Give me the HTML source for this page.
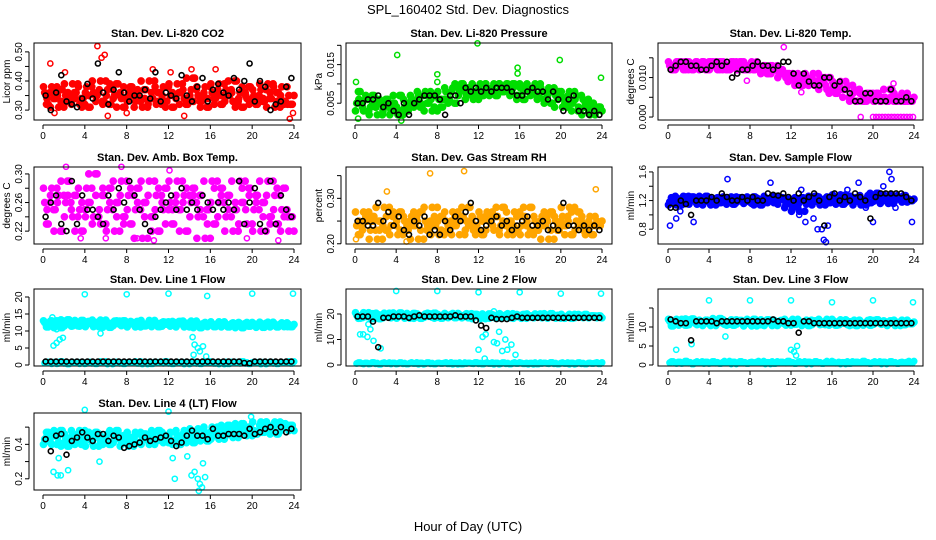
<!DOCTYPE html>
<html><head><meta charset="utf-8"><style>
html,body{margin:0;padding:0;background:#fff}
svg{display:block;font-family:"Liberation Sans",sans-serif}
</style></head><body>
<svg id="c" width="936" height="540" viewBox="0 0 936 540" xmlns="http://www.w3.org/2000/svg">
<rect x="0" y="0" width="936" height="540" fill="#fff"/>
<text x="468" y="14" font-size="13" text-anchor="middle">SPL_160402  Std. Dev. Diagnostics</text>
<text x="468" y="531" font-size="13" text-anchor="middle">Hour of Day (UTC)</text>
</svg>
<script>
const hourTicks=[0,4,8,12,16,20,24];
const lowVals=[0.6,0.9,0.4,0.8,0.5,1.0,0.7,0.3,0.9,0.6,0.4,0.8,0.5,0.9,0.7,0.4,1.0,0.6,0.3,0.8,0.5,0.9,0.7,0.4,0.8,0.6,1.0,0.5,0.3,0.7,0.9,0.4,0.6,0.8,0.5,1.0,0.7,0.4,0.9,0.6,0.3,0.8,0.5,0.9,0.7,0.4,1.0,0.6,0.8,0.5,0.3,0.7,0.9,0.4,0.6,0.8,0.5,1.0,0.7,0.4,0.9,0.6,0.3,0.8,0.5,0.9,0.7,0.4,0.8,0.6,1.0,0.5];
const co2Color=[0.36,0.32,0.38,0.34,0.31,0.37,0.35,0.33,0.39,0.36,0.32,0.34,0.38,0.31,0.36,0.35,0.40,0.33,0.37,0.32,0.35,0.39,0.34,0.31,0.36,0.38,0.33,0.35,0.31,0.37,0.40,0.34,0.32,0.36,0.38,0.33,0.35,0.31,0.39,0.36,0.34,0.32,0.37,0.41,0.35,0.33,0.38,0.31,0.36,0.34,0.39,0.32,0.37,0.35,0.33,0.40,0.36,0.31,0.34,0.38,0.35,0.32,0.37,0.33,0.39,0.34,0.31,0.36,0.38,0.33,0.35,0.32];
const co2Black=[0.35,0.30,0.36,0.42,0.33,0.32,0.31,0.34,0.39,0.34,0.46,0.36,0.32,0.37,0.43,0.36,0.33,0.35,0.35,0.37,0.34,0.43,0.33,0.36,0.35,0.34,0.42,0.35,0.33,0.38,0.41,0.33,0.37,0.39,0.36,0.35,0.41,0.37,0.40,0.46,0.33,0.40,0.38,0.30,0.32,0.33,0.38,0.41];
const co2Out=[[0.7,0.46],[5.2,0.52],[5.6,0.48],[5.9,0.49],[2.1,0.43],[1.1,0.29],[6.2,0.28],[8,0.29],[13.5,0.28],[14.2,0.44],[16.5,0.44],[23.6,0.27],[23.9,0.29],[10.5,0.44],[12.2,0.43]];
const presColor=[0.005,0.008,0.003,0.006,0.004,0.007,0.002,0.005,0.004,0.006,0.003,0.005,0.002,0.007,0.004,0.003,0.006,0.005,0.007,0.004,0.008,0.005,0.003,0.007,0.006,0.004,0.008,0.006,0.009,0.005,0.008,0.010,0.007,0.009,0.006,0.008,0.010,0.007,0.009,0.008,0.010,0.007,0.009,0.008,0.010,0.008,0.010,0.007,0.009,0.006,0.009,0.008,0.010,0.007,0.008,0.006,0.009,0.005,0.007,0.008,0.004,0.006,0.008,0.005,0.007,0.003,0.006,0.004,0.002,0.005,0.003,0.004];
const presBlack=[0.005,0.005,0.006,0.006,0.007,0.004,0.005,0.003,0.002,0.005,0.002,0.005,0.006,0.007,0.007,0.007,0.006,0.002,0.007,0.007,0.005,0.009,0.008,0.009,0.008,0.009,0.008,0.009,0.009,0.009,0.008,0.007,0.007,0.008,0.009,0.008,0.008,0.006,0.008,0.006,0.003,0.006,0.007,0.003,0.003,0.002,0.003,0.002];
const presOut=[[4.1,0.0175],[11.9,0.0205],[19.9,0.0162],[23.9,0.0116],[0.1,0.0105],[8,0.0125],[8,0.0105],[15.8,0.0142],[15.8,0.0127],[0.3,0.001],[4.5,0.0005]];
const tempColor=[0.013,0.012,0.014,0.013,0.012,0.014,0.013,0.012,0.014,0.013,0.014,0.012,0.014,0.013,0.012,0.014,0.013,0.012,0.014,0.013,0.012,0.014,0.012,0.013,0.014,0.012,0.013,0.012,0.013,0.011,0.013,0.012,0.011,0.012,0.010,0.011,0.011,0.009,0.010,0.008,0.010,0.009,0.011,0.008,0.010,0.009,0.007,0.010,0.008,0.006,0.009,0.007,0.008,0.005,0.007,0.004,0.006,0.004,0.006,0.005,0.004,0.006,0.004,0.005,0.004,0.007,0.004,0.005,0.006,0.004,0.005,0.004];
const tempBlack=[0.012,0.013,0.014,0.014,0.013,0.013,0.012,0.012,0.013,0.014,0.013,0.014,0.010,0.011,0.012,0.012,0.013,0.014,0.013,0.013,0.012,0.013,0.014,0.014,0.011,0.008,0.011,0.009,0.008,0.008,0.010,0.010,0.008,0.009,0.007,0.006,0.004,0.004,0.006,0.006,0.004,0.004,0.004,0.007,0.004,0.004,0.005,0.004];
const tempOut=[[18.8,0],[20,0],[20.3,0],[20.6,0],[20.9,0],[21.2,0],[21.5,0],[21.8,0],[22.1,0],[22.4,0],[22.7,0],[23,0],[23.3,0],[23.6,0],[23.9,0],[11.3,0.0177],[7.7,0.0092],[13,0.0063],[22,0.0085]];
const ambColor=[0.26,0.23,0.28,0.25,0.27,0.22,0.26,0.29,0.24,0.27,0.25,0.22,0.28,0.26,0.24,0.30,0.23,0.27,0.25,0.28,0.22,0.26,0.29,0.24,0.27,0.23,0.25,0.28,0.21,0.26,0.29,0.24,0.27,0.22,0.25,0.28,0.26,0.23,0.29,0.25,0.27,0.22,0.26,0.28,0.24,0.27,0.21,0.25,0.29,0.23,0.26,0.28,0.24,0.27,0.22,0.25,0.29,0.26,0.23,0.28,0.25,0.27,0.22,0.26,0.29,0.24,0.27,0.23,0.25,0.28,0.22,0.24];
const ambBlack=[0.24,0.26,0.27,0.23,0.22,0.29,0.23,0.27,0.25,0.25,0.24,0.23,0.27,0.25,0.28,0.26,0.29,0.27,0.25,0.23,0.22,0.24,0.25,0.26,0.27,0.25,0.28,0.25,0.26,0.25,0.27,0.26,0.25,0.26,0.25,0.26,0.25,0.29,0.23,0.26,0.28,0.23,0.22,0.29,0.23,0.27,0.25,0.24];
const ambOut=[[2.2,0.31],[7.5,0.31],[12.1,0.305],[3.6,0.21],[6,0.21],[9,0.21],[10.6,0.207],[19.5,0.21],[22.5,0.207]];
const rhColor=[0.24,0.22,0.27,0.25,0.23,0.26,0.21,0.25,0.28,0.23,0.24,0.26,0.22,0.27,0.25,0.23,0.26,0.24,0.21,0.27,0.25,0.23,0.28,0.24,0.22,0.26,0.25,0.23,0.27,0.24,0.22,0.26,0.25,0.28,0.23,0.24,0.26,0.22,0.27,0.25,0.23,0.26,0.24,0.28,0.22,0.25,0.27,0.23,0.24,0.26,0.22,0.28,0.25,0.23,0.26,0.24,0.21,0.27,0.25,0.23,0.26,0.24,0.28,0.22,0.25,0.27,0.23,0.24,0.26,0.22,0.25,0.24];
const rhBlack=[0.25,0.25,0.24,0.24,0.29,0.25,0.27,0.24,0.26,0.23,0.22,0.25,0.24,0.26,0.22,0.23,0.22,0.25,0.23,0.26,0.25,0.27,0.29,0.25,0.23,0.24,0.25,0.26,0.24,0.25,0.23,0.24,0.25,0.26,0.24,0.24,0.25,0.23,0.24,0.23,0.29,0.24,0.24,0.23,0.24,0.23,0.24,0.23];
const rhOut=[[7.3,0.355],[10.6,0.36],[3.1,0.315],[23.4,0.32],[5,0.205],[0.1,0.21]];
const flowColor=[1.18,1.24,1.14,1.22,1.26,1.16,1.20,1.25,1.15,1.22,1.18,1.26,1.14,1.21,1.24,1.17,1.23,1.19,1.25,1.15,1.21,1.24,1.18,1.22,1.16,1.25,1.20,1.14,1.23,1.19,1.26,1.17,1.21,1.24,1.15,1.22,1.10,1.20,1.05,1.24,1.15,1.22,1.18,1.26,1.14,1.21,1.25,1.17,1.23,1.19,1.28,1.15,1.22,1.26,1.18,1.24,1.14,1.21,1.27,1.17,1.23,1.30,1.19,1.26,1.16,1.28,1.21,1.24,1.18,1.27,1.22,1.20];
const flowBlack=[1.1,1.1,1.2,1.15,1.0,1.2,1.2,1.2,1.25,1.2,1.3,1.25,1.2,1.2,1.25,1.2,1.25,1.2,1.2,1.3,1.28,1.27,1.3,1.25,1.2,1.3,1.2,1.25,1.3,1.2,0.85,1.25,1.3,1.2,1.25,1.2,1.3,1.25,1.2,0.95,1.25,1.3,1.3,1.3,1.3,1.3,1.25,1.2];
const flowOut=[[0.2,0.85],[0.8,0.95],[1.2,1.05],[2.5,0.9],[5.8,1.5],[10,1.45],[12.8,1.0],[13.4,0.9],[14.2,0.95],[14.6,0.8],[15,0.8],[15.2,0.65],[15.4,0.62],[15.6,0.85],[17.5,1.35],[18.6,1.45],[19.3,1.1],[21,1.4],[21.6,1.6],[21.8,1.5],[22.2,1.1],[23.8,0.9],[13,1.35],[20,0.9]];
const l1Color=[12.5,11.2,13.0,11.8,12.9,11.0,12.2,13.3,11.5,12.6,11.4,13.1,12.0,12.8,11.3,12.5,13.2,11.7,12.4,11.1,12.9,12.2,11.6,13.0,11.9,12.6,11.2,12.8,12.1,11.5,13.1,11.8,12.4,11.3,12.7,12.0,11.4,12.6,11.9,12.8,11.2,12.3,12.9,11.6,12.2,11.0,12.5,11.8,12.1,11.3,12.7,11.6,12.0,11.2,12.4,11.7,12.2,11.0,12.5,11.4,12.1,11.8,12.3,11.1,12.6,11.5,12.0,11.2,12.4,11.6,11.9,11.3];
const l1Black=[1,1,1,1,1,1,1,1,1,1,1,1,1,1,1,1,1,1,1,1,1,1,1,1,1,1,1,1,1,1,1,1,1,1,1,1,1,1,0.6,0.5,1,1,1,1,1,1,1,1];
const l1Out=[[4,20.8],[8,20.8],[12,21],[15.7,20.3],[20,21],[23.9,21],[1,5.7],[1.3,6.5],[1.6,7.5],[1.9,8],[1.3,10.5],[5.5,9.3],[14.3,8.2],[14.5,6],[14.8,5],[15,4],[15.3,5.5],[15.6,2.5],[14.4,3],[0.9,14]];
const l2Color=[19.5,18.3,20.5,19.0,18.6,20.1,19.3,18.2,20.3,19.6,18.5,19.9,19.2,20.4,18.4,19.7,18.9,20.2,19.4,18.3,20.0,19.1,18.7,20.3,19.5,18.4,19.8,19.0,20.2,18.6,19.6,18.9,20.1,18.5,19.3,19.9,18.2,19.5,18.8,20.0,19.2,18.4,19.7,18.9,20.1,18.6,19.4,19.0,18.3,19.8,19.1,18.7,20.0,19.3,18.5,19.6,18.9,20.1,18.4,19.5,19.0,18.7,19.9,18.3,19.4,19.1,18.6,19.8,18.9,19.3,18.5,19.2];
const l2Black=[19,19,19,17,7,18.5,18.5,19,19,19,18.5,19,19.5,19,19,19,19,19,19,19.5,19,19,19,17.5,15.5,14.5,18.5,18,18,18,18.5,19,18.5,18.5,18.5,18.5,18.5,18.5,18.5,18.5,18.5,18.5,18.5,18.5,18.5,18.5,18.5,18.5];
const l2Out=[[4,29],[8,29],[12,28.5],[16,28.5],[20,28],[23.9,28],[0.5,12],[0.8,12],[1.2,11],[1.5,14],[1.8,9.5],[2.5,6.5],[1.3,16],[12,6],[12.4,11],[12.7,12],[12.6,2.5],[13.5,9],[13.8,8.5],[14,13],[14.3,5.5],[14.6,10],[14.8,6],[15.2,8],[15.6,4],[13.5,21]];
const l3Color=[11.5,10.3,12.0,10.8,11.7,10.5,11.2,12.1,10.6,11.4,10.9,11.8,10.4,11.6,11.0,12.2,10.7,11.3,11.9,10.5,11.1,11.7,10.8,11.4,10.3,12.0,11.0,10.6,11.5,11.9,10.4,11.2,10.9,11.7,10.5,11.3,12.0,10.7,11.4,10.9,11.8,10.4,11.1,11.6,10.6,11.3,12.0,10.8,11.5,10.5,11.9,11.0,10.6,11.4,11.8,10.4,11.2,10.9,11.7,10.5,11.3,11.9,10.7,11.4,10.9,11.6,10.4,11.2,11.8,10.6,11.3,10.9];
const l3Black=[12,11.5,11,11,6.5,11.5,11.5,11.5,11.5,11,11.5,11.5,11.5,11.5,11.5,11.5,11.5,11.5,11.5,11.5,12,11.5,11.5,11,11,8.5,11.5,11.5,11,11,11,11,11,11,11,11,11,11,11,11,11,11,11,11,11,11,11,11];
const l3Out=[[4,17],[8,17],[12,17],[16,16.5],[20,17],[23.9,16.5],[0.8,4],[2.3,5.5],[2.1,12],[5.6,7.5],[12,4],[12.3,3.5],[12.6,5],[12.5,2.5]];
const l4Color=[0.43,0.47,0.40,0.45,0.41,0.48,0.44,0.39,0.46,0.42,0.48,0.40,0.45,0.43,0.39,0.47,0.41,0.44,0.46,0.40,0.43,0.48,0.41,0.45,0.39,0.44,0.47,0.41,0.43,0.46,0.40,0.45,0.42,0.48,0.41,0.44,0.47,0.42,0.45,0.40,0.48,0.43,0.46,0.41,0.49,0.44,0.47,0.42,0.50,0.45,0.43,0.48,0.46,0.51,0.44,0.49,0.47,0.52,0.45,0.50,0.48,0.46,0.53,0.47,0.51,0.49,0.53,0.46,0.50,0.52,0.48,0.51];
const l4Black=[0.43,0.36,0.45,0.46,0.34,0.42,0.44,0.47,0.44,0.42,0.46,0.46,0.42,0.45,0.44,0.38,0.39,0.40,0.41,0.44,0.42,0.43,0.44,0.45,0.42,0.39,0.41,0.45,0.48,0.45,0.45,0.43,0.49,0.45,0.45,0.46,0.46,0.46,0.45,0.49,0.46,0.47,0.49,0.50,0.47,0.50,0.47,0.49];
const l4Out=[[4,0.6],[12,0.59],[19.9,0.56],[1,0.24],[1.4,0.22],[1.7,0.22],[2.4,0.25],[1.5,0.32],[5.4,0.3],[12.4,0.32],[12.6,0.2],[13.8,0.33],[14.2,0.22],[14.5,0.24],[14.8,0.2],[15,0.17],[15.2,0.15],[14.9,0.13],[15.3,0.29],[15.5,0.21]];

const NS="http://www.w3.org/2000/svg";
const svg=document.getElementById('c');
function mk(tag,attrs,parent){const e=document.createElementNS(NS,tag);for(const k in attrs)e.setAttribute(k,attrs[k]);(parent||svg).appendChild(e);return e;}
const cols=[{L:34,R:301,x0:43,x24:294},{L:346,R:612,x0:355,x24:602},{L:658,R:923,x0:668,x24:914}];
const rows=[43,167,289,413];const H=77;
const panels=[
{id:'co2',title:'Stan. Dev. Li-820 CO2',ylab:'Licor ppm',c:0,r:0,ymin:0.266,ymax:0.5305,ticks:[0.30,0.35,0.40,0.45,0.50],labels:[0.30,0.40,0.50],dec:2,col:'#ff0000',cv:co2Color,bv:co2Black,ov:co2Out},
{id:'pressure',title:'Stan. Dev. Li-820 Pressure',ylab:'kPa',c:1,r:0,ymin:0.00065,ymax:0.0206,ticks:[0.005,0.010,0.015,0.020],labels:[0.005,0.015],dec:3,col:'#00dd00',cv:presColor,bv:presBlack,ov:presOut},
{id:'temp',title:'Stan. Dev. Li-820 Temp.',ylab:'degrees C',c:2,r:0,ymin:-0.00075,ymax:0.01875,ticks:[0,0.005,0.010,0.015],labels:[0,0.010],dec:3,col:'#ff00ff',cv:tempColor,bv:tempBlack,ov:tempOut},
{id:'amb-box',title:'Stan. Dev. Amb. Box Temp.',ylab:'degrees C',c:0,r:1,ymin:0.202,ymax:0.3097,ticks:[0.22,0.24,0.26,0.28,0.30],labels:[0.22,0.26,0.30],dec:2,col:'#ff00ff',cv:ambColor,bv:ambBlack,ov:ambOut},
{id:'gas-rh',title:'Stan. Dev. Gas Stream RH',ylab:'percent',c:1,r:1,ymin:0.1995,ymax:0.369,ticks:[0.20,0.25,0.30,0.35],labels:[0.20,0.30],dec:2,col:'#ffa500',cv:rhColor,bv:rhBlack,ov:rhOut},
{id:'sample-flow',title:'Stan. Dev. Sample Flow',ylab:'ml/min',c:2,r:1,ymin:0.593,ymax:1.669,ticks:[0.8,1.0,1.2,1.4,1.6],labels:[0.8,1.2,1.6],dec:1,col:'#0000ff',cv:flowColor,bv:flowBlack,ov:flowOut},
{id:'line1',title:'Stan. Dev. Line 1 Flow',ylab:'ml/min',c:0,r:2,ymin:-0.29,ymax:22.35,ticks:[0,5,10,15,20],labels:[0,5,10,15,20],dec:0,col:'#00ffff',cv:l1Color,bv:l1Black,ov:l1Out,low:true},
{id:'line2',title:'Stan. Dev. Line 2 Flow',ylab:'ml/min',c:1,r:2,ymin:-0.39,ymax:29.8,ticks:[0,10,20],labels:[0,10,20],dec:0,col:'#00ffff',cv:l2Color,bv:l2Black,ov:l2Out,low:true},
{id:'line3',title:'Stan. Dev. Line 3 Flow',ylab:'ml/min',c:2,r:2,ymin:-0.26,ymax:20,ticks:[0,5,10,15],labels:[0,5,10],dec:0,col:'#00ffff',cv:l3Color,bv:l3Black,ov:l3Out,low:true},
{id:'line4',title:'Stan. Dev. Line 4 (LT) Flow',ylab:'ml/min',c:0,r:3,ymin:0.135,ymax:0.582,ticks:[0.2,0.3,0.4,0.5],labels:[0.2,0.4],dec:1,col:'#00ffff',cv:l4Color,bv:l4Black,ov:l4Out}
];
panels.forEach(p=>{
  const C=cols[p.c],T=rows[p.r],B=T+H;
  const g=mk('g',{});
  
  
  const X=h=>C.x0+(C.x24-C.x0)*h/24;
  const Y=v=>B-(v-p.ymin)/(p.ymax-p.ymin)*H;
  const pts=mk('g',{},g);
  
  
  function dot(h,v,color,fill,r,sw){
    const e=mk('circle',{cx:X(h).toFixed(1),cy:Y(v).toFixed(1),r:r,fill:fill,stroke:color,'stroke-width':sw||1.5},pts);
    
    
  }
  const n=p.cv.length;
  if(p.low){
    lowVals.forEach((v,i)=>dot(i/3+1/6,v,p.col,p.col,2.8));
    lowVals.forEach((v,i)=>dot(i/3+1/3,lowVals[i^1]||v,p.col,p.col,2.8));
  }
  p.cv.forEach((v,i)=>dot(i/3+1/6,v,p.col,p.col,3.1));
  p.cv.forEach((v,i)=>dot(i/3+1/3,p.cv[Math.min(i^1,n-1)],p.col,p.col,3.1));
  p.cv.forEach((v,i)=>dot(i/3+0.05,p.cv[Math.min(i+2,n-1)],p.col,p.col,3.1));
  p.ov.forEach(o=>dot(o[0],o[1],p.col,'none',2.6));
  p.bv.forEach((v,i)=>dot(i/2+0.25,v,'#000','none',2.5,1.6));
  const fr=mk('rect',{x:C.L,y:T,width:C.R-C.L,height:H,fill:'none',stroke:'#000','stroke-width':1},g);
  
  
  const tt=mk('text',{x:(C.L+C.R)/2,y:T-6,'font-size':11,'font-weight':'bold','text-anchor':'middle'},g);
  tt.textContent=p.title;
  
  
  mk('line',{x1:X(0),x2:X(24),y1:B+5,y2:B+5,stroke:'#000'},g);
  hourTicks.forEach(h=>{
    mk('line',{x1:X(h),x2:X(h),y1:B+5,y2:B+9,stroke:'#000'},g);
    const t=mk('text',{x:X(h),y:B+19,'font-size':10,'text-anchor':'middle'},g);
    t.textContent=h;
    
    
  });
  const ax=C.L-5;
  mk('line',{x1:ax,x2:ax,y1:Y(p.ticks[0]),y2:Y(p.ticks[p.ticks.length-1]),stroke:'#000'},g);
  p.ticks.forEach(v=>mk('line',{x1:ax-4,x2:ax,y1:Y(v),y2:Y(v),stroke:'#000'},g));
  p.labels.forEach(v=>{
    const yy=Y(v),xx=ax-7;
    const t=mk('text',{x:xx,y:yy,'font-size':10,'text-anchor':'middle',transform:`rotate(-90 ${xx} ${yy})`},g);
    t.textContent=v.toFixed(p.dec);
    
    
  });
  const lx=C.L-24,ly=(T+B)/2;
  const yl=mk('text',{x:lx,y:ly,'font-size':10,'text-anchor':'middle',transform:`rotate(-90 ${lx} ${ly})`},g);
  yl.textContent=p.ylab;
  
  
});
</script>
</body></html>
